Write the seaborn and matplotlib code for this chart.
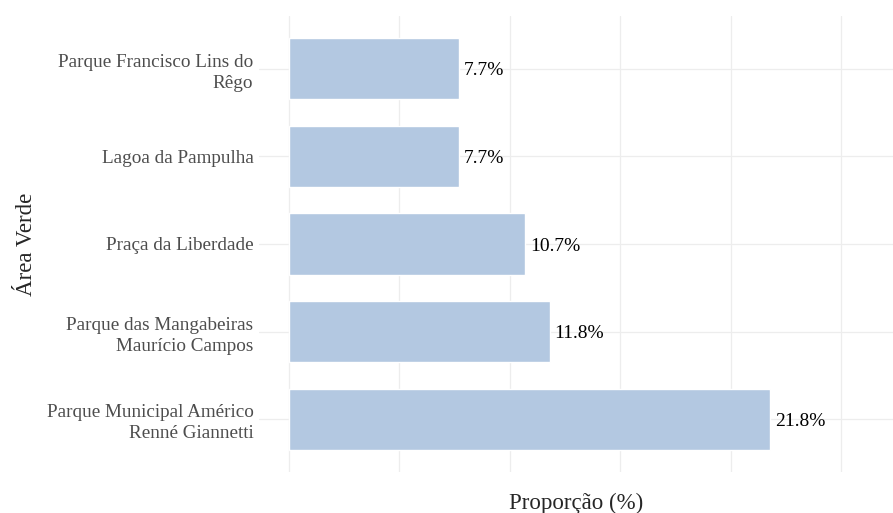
import matplotlib
matplotlib.use("Agg")
import matplotlib.pyplot as plt
import seaborn as sns
import pandas as pd

categories = [
    "Parque Francisco Lins do\nRêgo",
    "Lagoa da Pampulha",
    "Praça da Liberdade",
    "Parque das Mangabeiras\nMaurício Campos",
    "Parque Municipal Américo\nRenné Giannetti",
]
values = [7.7, 7.7, 10.7, 11.8, 21.8]
value_labels = ["7.7%", "7.7%", "10.7%", "11.8%", "21.8%"]

df = pd.DataFrame({"area": categories, "prop": values})

sns.set_theme(style="white")
plt.rcParams["font.family"] = ["Liberation Serif", "DejaVu Serif"]

fig = plt.figure(figsize=(8.93, 5.13), dpi=100)
ax = fig.add_axes([259 / 893, 1 - 472 / 513, 1 - 259 / 893, (472 - 16) / 513])

sns.barplot(data=df, x="prop", y="area", orient="h", color="#B3C8E1",
            saturation=1, width=0.7, ax=ax, order=categories)

ax.set_xlim(-1.36, 27.35)
ax.set_ylim(4.6, -0.6)
ax.set_xticks([0, 5, 10, 15, 20, 25])
ax.set_xticklabels([])
ax.set_axisbelow(True)
ax.grid(True, axis="both", color="#EDEDED", linewidth=0.9)
for s in ax.spines.values():
    s.set_visible(False)
ax.tick_params(axis="both", length=0)
ax.tick_params(axis="y", pad=4, labelsize=13.8, labelcolor="#4D4D4D")
for lbl in ax.get_yticklabels():
    lbl.set_linespacing(1.3)

for i, (v, t) in enumerate(zip(values, value_labels)):
    ax.annotate(t, xy=(v, i), xytext=(3.5, -1.5), textcoords="offset points",
                ha="left", va="center", fontsize=14, color="black")

ax.set_xlabel("Proporção (%)", fontsize=16.5)
ax.set_ylabel("Área Verde", fontsize=16.5)
ax.xaxis.set_label_coords((576 - 259) / 634, (472 - 493) / 456)
ax.yaxis.set_label_coords((37 - 259) / 634, 0.5)

fig.savefig("out.png", dpi=100)
